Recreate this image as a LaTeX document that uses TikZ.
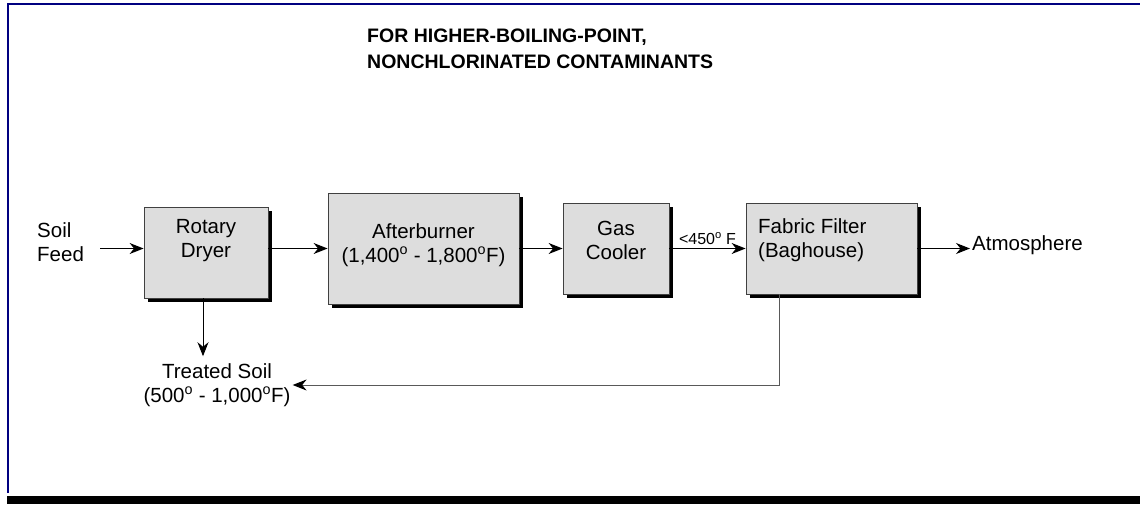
\documentclass[tikz,border=0pt]{standalone}
\usepackage{fontspec}
\setmainfont{Liberation Sans}
\usetikzlibrary{arrows.meta,shadows}
\definecolor{framenavy}{RGB}{0,0,128}
\definecolor{unitgray}{RGB}{221,221,221}
\tikzset{
    unit/.style={draw=black!75, line width=0.8pt, fill=unitgray,
        drop shadow={shadow xshift=3.5pt, shadow yshift=-4pt, fill=black, opacity=1}},
    flow/.style={-{Stealth[length=14pt,width=11pt,inset=4.5pt,color=black]}, line width=1.3pt},
    ret/.style={flow, draw=black!65, line width=1pt},
    lbl/.style={inner sep=2pt, align=center, font=\fontsize{20.5}{24}\selectfont},
}

\begin{document}
\begin{tikzpicture}[x=1pt, y=-1pt]
    \useasboundingbox (0,0) rectangle (1140,504);
    % Frame
    \draw[framenavy, line width=2.5pt] (8,493) -- (8,4) -- (1140,4);
    \fill (7,496) rectangle (1140,504);
    % Title
    \node[lbl, anchor=west, align=left, font=\bfseries\fontsize{19.5}{26}\selectfont] (head) at (365,49)
        {FOR HIGHER-BOILING-POINT,\\NONCHLORINATED CONTAMINANTS};
    % Units
    \node[unit, minimum width=124, minimum height=91] (dryer) at (206,252.5) {};
    \node[unit, minimum width=191, minimum height=111] (burner) at (423.5,248.5) {};
    \node[unit, minimum width=106, minimum height=91] (cooler) at (616,248.5) {};
    \node[unit, minimum width=171, minimum height=91] (filter) at (831.5,248.5) {};
    \node[lbl] (dryer-t) at ([yshift=11.5]dryer.center) {Rotary\\Dryer};
    \node[lbl] (burner-t) at ([yshift=3.5]burner.center)
        {Afterburner\\(1,400\textsuperscript{o} - 1,800\textsuperscript{o}F)};
    \node[lbl] (cooler-t) at ([yshift=8.5]cooler.center) {Gas\\Cooler};
    \node[lbl, anchor=west, align=left] (filter-t) at (756,240.5) {Fabric Filter\\(Baghouse)};
    % Streams in and out
    \node[lbl, anchor=west, align=left] (feed) at (35,242) {Soil\\Feed};
    \node[lbl, anchor=west] (atm) at (970,245) {Atmosphere};
    \node[lbl] (soil) at (217,385) {Treated Soil\\(500\textsuperscript{o} - 1,000\textsuperscript{o}F)};
    % Flow
    \draw[flow] ([xshift=14]feed.east |- burner.west) -- (dryer.west |- burner.west);
    \draw[flow] (dryer.east |- burner.west) -- (burner.west);
    \draw[flow] (burner.east) -- (cooler.west);
    \draw[flow] (cooler.east) -- node[lbl, above=1pt, font=\fontsize{16}{18}\selectfont] (temp)
        {<450\textsuperscript{o} F} (filter.west);
    \draw[flow] (filter.east) -- (filter.east -| atm.west);
    \draw[flow, line width=1pt, shorten >=5pt] ([xshift=-3]dryer.south) -- ([xshift=-3]dryer.south |- soil.north);
    % Return
    \draw[ret] ([xshift=34]filter.south west) |- (soil.east);
\end{tikzpicture}
\end{document}
